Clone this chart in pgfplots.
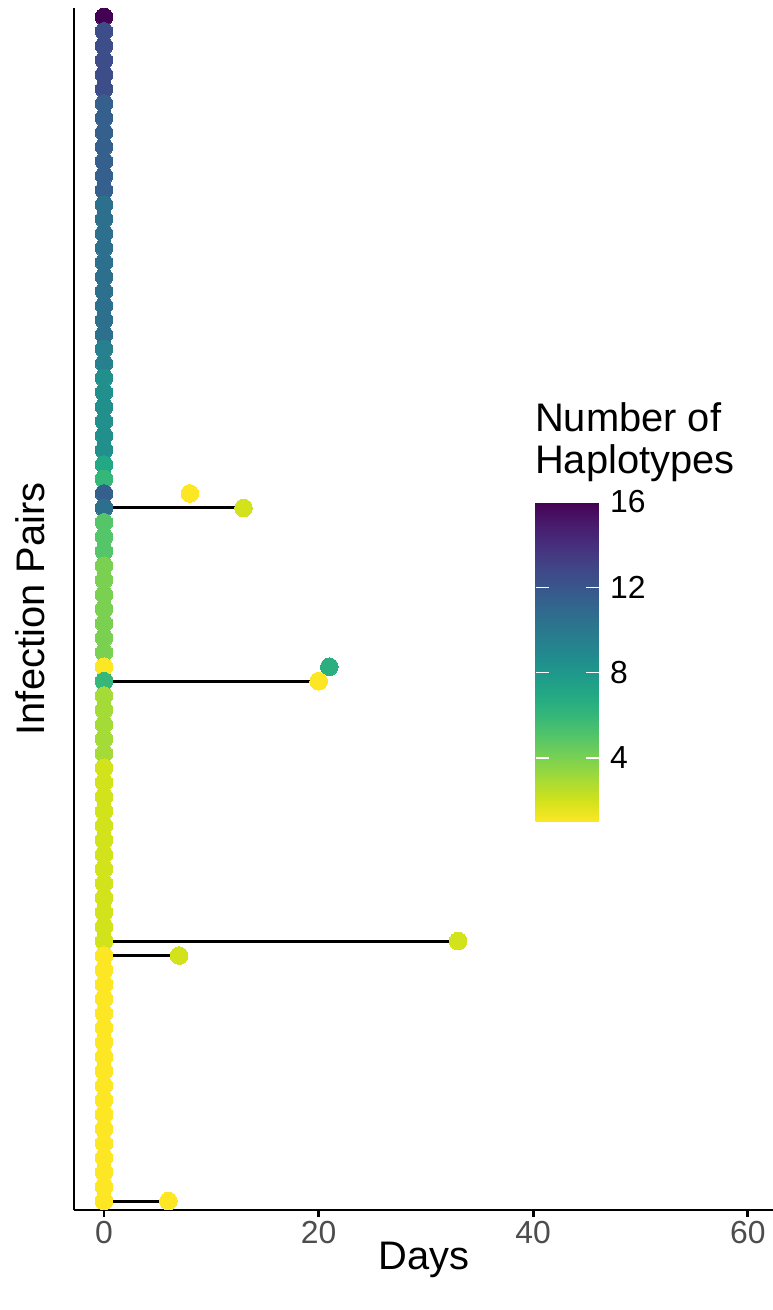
\documentclass[border=0pt]{standalone}
\usepackage{pgfplots}
\pgfplotsset{compat=1.18}
\usepackage{pgfplotstable}
\usepackage{fontspec}
\setmainfont{Liberation Sans}
\usetikzlibrary{calc}
\definecolor{gray4d}{HTML}{4D4D4D}

% points at day 0 (one per row, y = row from bottom)
\pgfplotstableread{
x y v
0 83 16
0 82 12.5
0 81 12.5
0 80 12.5
0 79 12.5
0 78 12.5
0 77 11.5
0 76 11.5
0 75 11.5
0 74 11.5
0 73 11.5
0 72 11.5
0 71 11.5
0 70 10.5
0 69 10.5
0 68 10.5
0 67 10.5
0 66 10.5
0 65 10.5
0 64 10.5
0 63 10.5
0 62 10.5
0 61 10.5
0 60 9.5
0 59 9.5
0 58 8.5
0 57 8.5
0 56 8.5
0 55 8.5
0 54 8.5
0 53 8.5
0 52 7
0 51 6
0 50 11.5
0 49 10.5
0 48 5
0 47 5
0 46 5
0 45 4
0 44 4
0 43 4
0 42 4
0 41 4
0 40 4
0 39 4
0 38 1
0 37 6
0 36 3
0 35 3
0 34 3
0 33 3
0 32 3
0 31 2
0 30 2
0 29 2
0 28 2
0 27 2
0 26 2
0 25 2
0 24 2
0 23 2
0 22 2
0 21 2
0 20 2
0 19 2
0 18 1
0 17 1
0 16 1
0 15 1
0 14 1
0 13 1
0 12 1
0 11 1
0 10 1
0 9 1
0 8 1
0 7 1
0 6 1
0 5 1
0 4 1
0 3 1
0 2 1
0 1 1
}\dayzero

% second member of the pairs
\pgfplotstableread{
x y v
8 50 1
13 49 2
21 38 6.5
20 37 1
33 19 2
7 18 2
6 1 1
}\later

\begin{document}
\begin{tikzpicture}
\useasboundingbox (-74bp,-100bp) rectangle (699bp,1210bp);
\begin{axis}[
  name=main,
  at={(0,0)}, anchor=south west,
  scale only axis, width=699bp, height=1202bp,
  xmin=-2.8, xmax=62.35, ymin=0.38, ymax=83.62,
  axis x line*=bottom, axis y line*=left,
  axis line style={-, line width=2.8bp, black},
  xtick={0,20,40,60}, ytick=\empty,
  tick align=outside, major tick length=7bp,
  xtick style={line width=2.7bp, black},
  xticklabel style={font=\fontsize{32}{38}\selectfont, text=gray4d, anchor=base, yshift=-26bp},
  /pgf/number format/assume math mode=true,
  colormap={ggviridis}{
    rgb255=(253,231,37) rgb255=(210,226,27) rgb255=(165,219,54) rgb255=(122,209,81)
    rgb255=(84,197,104) rgb255=(53,183,121) rgb255=(34,168,132) rgb255=(31,152,139)
    rgb255=(35,136,142) rgb255=(42,120,142) rgb255=(49,104,142) rgb255=(57,86,140)
    rgb255=(65,68,135) rgb255=(71,47,125) rgb255=(72,26,108) rgb255=(68,1,84)},
  point meta min=1, point meta max=16,
  colorbar,
  colorbar/width=63bp,
  colorbar style={
    at={($(parent axis.south west)+(453bp,708bp)$)}, anchor=north west,
    scale only axis, height=320bp,
    ytick={4,8,12,16},
    yticklabel style={font=\fontsize{32}{38}\selectfont, text=black, xshift=8bp},
    /pgf/number format/assume math mode=true,
    axis line style={draw=none},
    tick align=inside, major tick length=13bp,
    yticklabel pos=right, ytick pos=both,
    ytick style={white, line width=1.3bp},
  },
]
\addplot[scatter, only marks, mark=*, mark size=8.85bp, point meta=explicit,
  scatter/use mapped color={draw=mapped color, fill=mapped color},
  mark options={line width=0pt}]
  table[x=x, y=y, meta=v] {\dayzero};
\addplot[scatter, only marks, mark=*, mark size=8.85bp, point meta=explicit,
  scatter/use mapped color={draw=mapped color, fill=mapped color},
  mark options={line width=0pt}]
  table[x=x, y=y, meta=v] {\later};
\addplot[black, line width=3bp] coordinates {(0,49) (13,49)};
\addplot[black, line width=3bp] coordinates {(0,37) (20,37)};
\addplot[black, line width=3bp] coordinates {(0,19) (33,19)};
\addplot[black, line width=3bp] coordinates {(0,18) (7,18)};
\addplot[black, line width=3bp] coordinates {(0,1) (6,1)};
\end{axis}
\node[anchor=base, font=\fontsize{40}{48}\selectfont, inner sep=0pt]
  at ($(main.south west)+(350bp,-59bp)$) {Days};
\node[anchor=base, rotate=90, font=\fontsize{40}{48}\selectfont, inner sep=0pt]
  at ($(main.south west)+(-30bp,601bp)$) {Infection Pairs};
\node[anchor=base west, font=\fontsize{40}{48}\selectfont, inner sep=0pt]
  at ($(main.south west)+(461bp,778bp)$) {Number of};
\node[anchor=base west, font=\fontsize{40}{48}\selectfont, inner sep=0pt]
  at ($(main.south west)+(461bp,736bp)$) {Haplotypes};
\end{tikzpicture}
\end{document}
